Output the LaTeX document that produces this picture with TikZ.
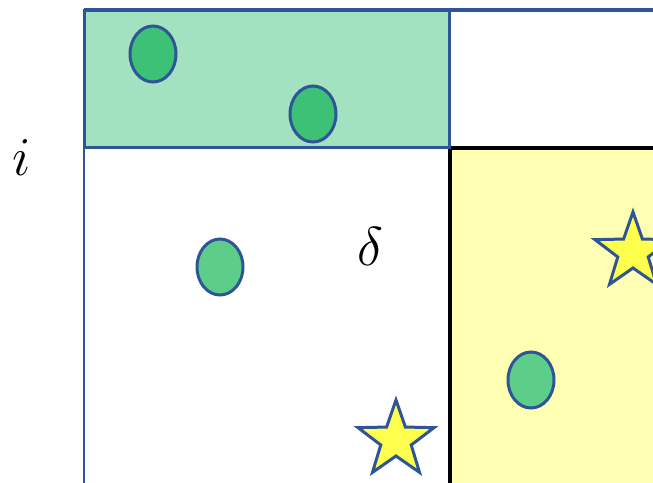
\documentclass[tikz,border=0pt]{standalone}
\usepackage{amsmath}
\usepackage{tikz}
\usepackage{xcolor}
\usetikzlibrary{shapes.geometric, positioning}

\definecolor{frameblue}{HTML}{2F5597}
\definecolor{topgreen}{HTML}{A3E2C0}
\definecolor{darkdot}{HTML}{3CC177}
\definecolor{lightdot}{HTML}{5DCE89}
\definecolor{paleyellow}{HTML}{FFFFB3}
\definecolor{staryellow}{HTML}{FFFF4D}

\begin{document}
\begin{tikzpicture}[
  x=1pt, y=-1pt,
  dot/.style={ellipse, minimum width=46pt, minimum height=56pt, inner sep=0pt, draw=frameblue, line width=3pt},
  starmark/.style={star, star points=5, star point ratio=2.5, minimum size=80pt, inner sep=0pt, draw=frameblue, line width=3pt, fill=staryellow},
  mathlabel/.style={font=\Huge, scale=2.2, inner sep=0pt},
]
\useasboundingbox (0,0) rectangle (653,482);
\clip (0,0) rectangle (653,482);

% regions
\fill[paleyellow] (450,148) rectangle (700,520);
\draw[black, line width=3.5pt] (450,520) -- (450,148) -- (700,148);
\filldraw[fill=topgreen, draw=frameblue, line width=3pt] (84,10) rectangle (449,147);

% outer frame
\draw[frameblue, line width=3.5pt] (84,10) -- (700,10);
\draw[frameblue, line width=2.5pt] (84,10) -- (84,520);

% points
\node[dot, fill=darkdot] (g1) at (153,54) {};
\node[dot, fill=darkdot] (g2) at (313,114) {};
\node[dot, fill=lightdot] (p1) at (220,267) {};
\node[dot, fill=lightdot] (p2) at (531,380) {};

\node[starmark] (s1) at (396,440) {};
\node[starmark] (s2) at (633,252) {};

% labels
\node[mathlabel] (i) at (22,158) {$i$};
\node[mathlabel] (delta) at (370,246) {$\delta$};
\end{tikzpicture}
\end{document}
